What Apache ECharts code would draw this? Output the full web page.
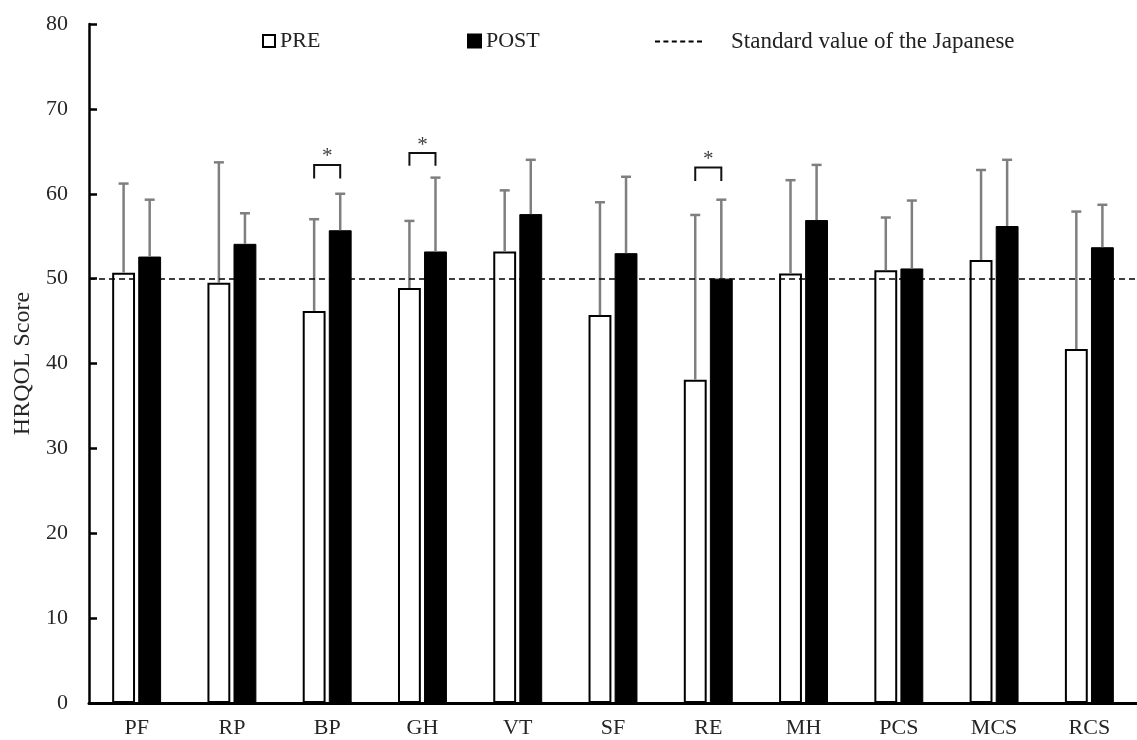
<!DOCTYPE html>
<html>
<head>
    <meta charset="utf-8">
    <title>HRQOL Score</title>
    <script src="https://cdn.jsdelivr.net/npm/echarts@6/dist/echarts.min.js"></script>
    <style>
        html, body { margin: 0; padding: 0; background: #fff; }
        #main { width: 1137px; height: 740px; }
    </style>
</head>
<body>
<div id="main"></div>
<script>
    // data
    var categories = ['PF', 'RP', 'BP', 'GH', 'VT', 'SF', 'RE', 'MH', 'PCS', 'MCS', 'RCS'];
    var preMean = [50.7, 49.5, 46.2, 48.9, 53.2, 45.7, 38.1, 50.6, 51.0, 52.2, 41.7];
    var preUpper = [61.2, 63.7, 57.0, 56.8, 60.4, 59.0, 57.5, 61.6, 57.2, 62.8, 57.9];
    var postMean = [52.6, 54.1, 55.7, 53.2, 57.6, 53.0, 50.0, 56.9, 51.2, 56.2, 53.7];
    var postUpper = [59.3, 57.7, 60.0, 61.9, 64.0, 62.0, 59.3, 63.4, 59.2, 64.0, 58.7];
    var standardValue = 50;
    // significance brackets (* p<0.05)
    var sigIndex = [2, 3, 6];
    var sigTop = [63.4, 64.8, 63.1];
    var sigBottom = [61.8, 63.3, 61.5];

    var FONT = "'Liberation Serif', 'Times New Roman', serif";
    var BAR_W = 0.24;   // share of category band
    var BAR_GAP = 0.14; // share of bar width

    // dashed legend icon (six dashes)
    var DASH_ICON = 'path://M0,0h5v1.5h-5zM8.4,0h5v1.5h-5zM16.8,0h5v1.5h-5zM25.2,0h5v1.5h-5zM33.6,0h5v1.5h-5zM42,0h5v1.5h-5z';

    function barOffset(api) {
        var band = api.size([1, 0])[0];
        var w = band * BAR_W;
        return (w + w * BAR_GAP) / 2;
    }

    function errData(mean, upper) {
        var res = [];
        for (var i = 0; i < mean.length; i++) {
            res.push([i, mean[i], upper[i]]);
        }
        return res;
    }

    function makeErrRender(side) {
        return function (params, api) {
            var off = barOffset(api) * side;
            var p0 = api.coord([api.value(0), api.value(1)]);
            var p1 = api.coord([api.value(0), api.value(2)]);
            var x = p0[0] + off;
            var style = { stroke: '#7f7f7f', lineWidth: 2.5 };
            return {
                type: 'group',
                children: [
                    { type: 'line', shape: { x1: x, y1: p0[1], x2: x, y2: p1[1] }, style: style },
                    { type: 'line', shape: { x1: x - 5, y1: p1[1], x2: x + 5, y2: p1[1] }, style: style }
                ]
            };
        };
    }

    var sigData = [];
    for (var k = 0; k < sigIndex.length; k++) {
        sigData.push([sigIndex[k], sigTop[k], sigBottom[k]]);
    }

    var chart = echarts.init(document.getElementById('main'));

    var option = {
        animation: false,
        backgroundColor: '#fff',
        textStyle: { fontFamily: FONT },
        grid: { left: 89, right: 0, top: 24, bottom: 37, containLabel: false, outerBoundsMode: 'none' },
        legend: [{
            left: 257, top: 25,
            data: ['PRE'],
            icon: 'rect', itemWidth: 12, itemHeight: 12,
            textStyle: { fontFamily: FONT, fontSize: 22, color: '#222' }
        }, {
            left: 462, top: 25,
            data: ['POST'],
            icon: 'rect', itemWidth: 13, itemHeight: 13,
            textStyle: { fontFamily: FONT, fontSize: 22, color: '#222' }
        }, {
            left: 650, top: 25,
            data: [{ name: 'Standard value of the Japanese', icon: DASH_ICON }],
            itemWidth: 47, itemHeight: 2,
            symbolKeepAspect: false,
            textStyle: { fontFamily: FONT, fontSize: 23, color: '#222', padding: [0, 0, 0, 24] }
        }],
        xAxis: {
            type: 'category',
            data: categories,
            axisLine: { lineStyle: { color: '#000', width: 3 } },
            axisTick: { inside: true, length: 5, lineStyle: { color: '#000', width: 2.5 } },
            axisLabel: { fontFamily: FONT, fontSize: 22, color: '#262626', margin: 14 }
        },
        yAxis: {
            type: 'value',
            min: 0, max: 80, interval: 10,
            name: 'HRQOL Score',
            nameLocation: 'middle',
            nameGap: 54,
            nameTextStyle: { fontFamily: FONT, fontSize: 24, color: '#262626' },
            axisLine: { show: true, lineStyle: { color: '#000', width: 2.5 } },
            axisTick: { show: true, inside: true, length: 8, lineStyle: { color: '#000', width: 2.5 } },
            axisLabel: { fontFamily: FONT, fontSize: 22, color: '#262626', margin: 21 },
            splitLine: { show: false }
        },
        series: [{
            name: 'PRE',
            type: 'bar',
            data: preMean,
            barWidth: (BAR_W * 100) + '%',
            barGap: (BAR_GAP * 100) + '%',
            itemStyle: { color: '#fff', borderColor: '#000', borderWidth: 2 }
        }, {
            name: 'POST',
            type: 'bar',
            data: postMean,
            barWidth: (BAR_W * 100) + '%',
            barGap: (BAR_GAP * 100) + '%',
            itemStyle: { color: '#000', borderColor: '#000', borderWidth: 1 }
        }, {
            name: 'Standard value of the Japanese',
            type: 'line',
            data: [],
            symbol: 'none',
            itemStyle: { color: '#000' },
            lineStyle: { color: '#000', width: 1.5, type: [5, 3] },
            markLine: {
                silent: true,
                symbol: 'none',
                label: { show: false },
                lineStyle: { color: '#000', width: 1.5, type: [6, 4] },
                data: [{ yAxis: standardValue }]
            }
        }, {
            name: 'preErr',
            type: 'custom',
            renderItem: makeErrRender(-1),
            data: errData(preMean, preUpper),
            z: 3
        }, {
            name: 'postErr',
            type: 'custom',
            renderItem: makeErrRender(1),
            data: errData(postMean, postUpper),
            z: 3
        }, {
            name: 'sig',
            type: 'custom',
            data: sigData,
            z: 4,
            renderItem: function (params, api) {
                var off = barOffset(api);
                var top = api.coord([api.value(0), api.value(1)]);
                var bot = api.coord([api.value(0), api.value(2)]);
                var xl = top[0] - off, xr = top[0] + off;
                return {
                    type: 'group',
                    children: [{
                        type: 'polyline',
                        shape: { points: [[xl, bot[1]], [xl, top[1]], [xr, top[1]], [xr, bot[1]]] },
                        style: { stroke: '#111', lineWidth: 2, fill: null }
                    }, {
                        type: 'text',
                        style: {
                            text: '*', x: top[0], y: top[1] - 8,
                            fontFamily: FONT, fontSize: 21, fill: '#404040',
                            align: 'center', verticalAlign: 'middle'
                        }
                    }]
                };
            }
        }]
    };

    chart.setOption(option);
</script>
</body>
</html>
